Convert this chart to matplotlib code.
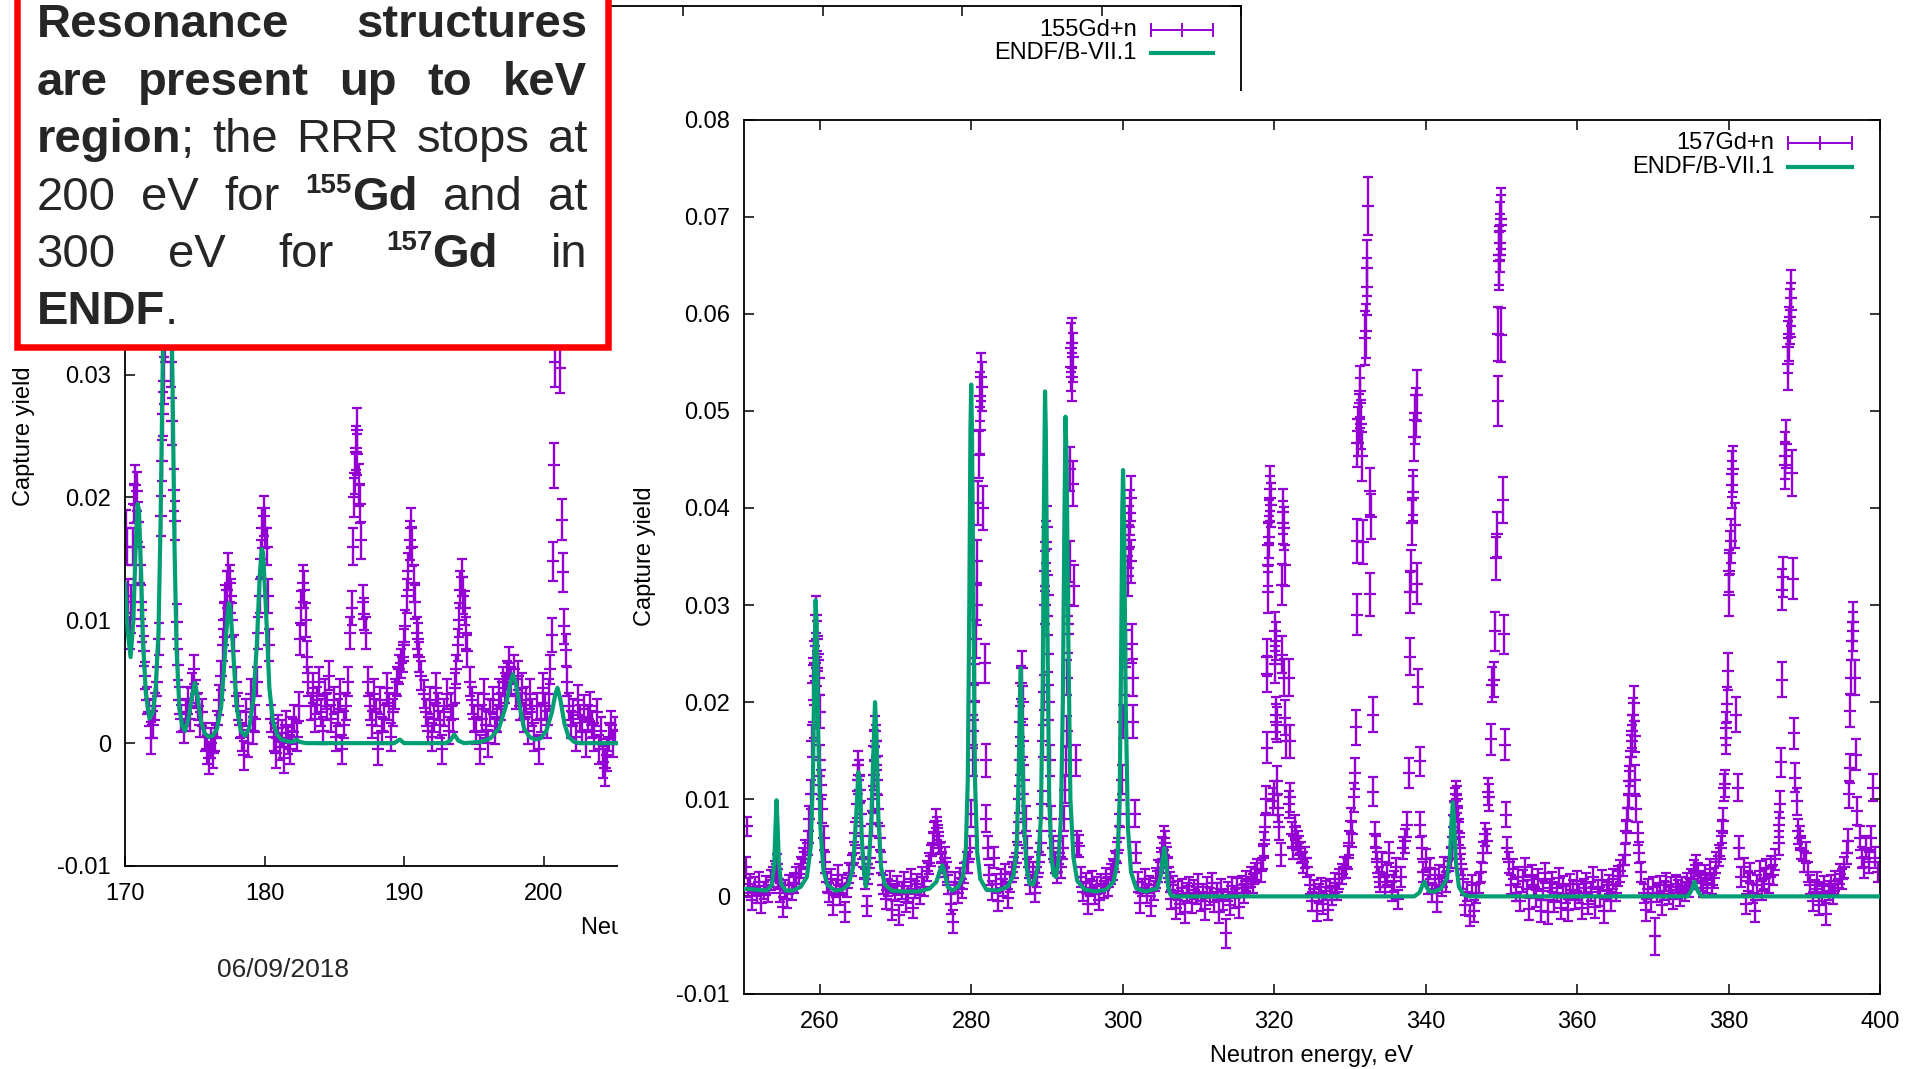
import numpy as np
import matplotlib
matplotlib.use("Agg")
import matplotlib.pyplot as plt
from matplotlib.patches import Rectangle
from matplotlib.lines import Line2D

# ---------------------------------------------------------------- data
# 155Gd+n capture yield (left plot); energies in eV, yield and error in units of 1e-3
E155 = [170.05, 170.15, 170.25, 170.35, 170.45, 170.55, 170.65, 170.75, 170.85, 170.95, 171.05, 171.15, 171.25, 171.35, 171.45,
        171.55, 171.7, 171.85, 172.0, 172.15, 172.3,
        172.45, 172.55, 172.65, 172.7, 172.8, 172.9, 173.0, 173.1, 173.2, 173.3, 173.4, 173.5, 173.6, 173.7, 173.8,
        173.9, 174.05, 174.2, 174.35, 174.5, 174.65, 174.8, 174.95, 175.1, 175.25, 175.4, 175.55, 175.7, 175.85, 176.0, 176.15, 176.3,
        176.45, 176.6, 176.75, 176.9, 177.0, 177.1, 177.2, 177.3, 177.4, 177.5, 177.6, 177.7, 177.8, 177.95, 178.1, 178.25,
        178.4, 178.55, 178.7, 178.85, 179.0, 179.15, 179.3,
        179.45, 179.55, 179.65, 179.75, 179.85, 179.95, 180.05, 180.15, 180.25, 180.35,
        180.5, 180.65, 180.8, 180.95, 181.1, 181.25, 181.4, 181.55, 181.7, 181.85, 182.0, 182.15, 182.3, 182.45,
        182.55, 182.65, 182.75, 182.85, 182.95, 183.05, 183.15,
        183.3, 183.45, 183.6, 183.75, 183.9, 184.05, 184.2, 184.35, 184.5, 184.65, 184.8, 184.95, 185.1, 185.25, 185.4, 185.55, 185.7, 185.85, 186.0,
        186.15, 186.25, 186.35, 186.45, 186.5, 186.55, 186.6, 186.65, 186.75, 186.85, 186.95, 187.05, 187.15, 187.25,
        187.4, 187.55, 187.7, 187.85, 188.0, 188.15, 188.3, 188.45, 188.6, 188.75, 188.9, 189.05, 189.2, 189.35, 189.5, 189.65,
        189.8, 189.9, 190.0, 190.1, 190.2, 190.3, 190.4, 190.5, 190.6, 190.7, 190.8, 190.9, 191.0, 191.1, 191.25, 191.4,
        191.55, 191.7, 191.85, 192.0, 192.15, 192.3, 192.45, 192.6, 192.75, 192.9, 193.05, 193.2, 193.35, 193.5, 193.65,
        193.75, 193.85, 193.95, 194.05, 194.15, 194.25, 194.35, 194.45, 194.55, 194.7, 194.85, 195.0,
        195.15, 195.3, 195.45, 195.6, 195.75, 195.9, 196.05, 196.2, 196.35, 196.5, 196.65, 196.8, 196.95, 197.1,
        197.25, 197.4, 197.55, 197.7, 197.85, 198.0, 198.15, 198.3, 198.45,
        198.6, 198.75, 198.9, 199.05, 199.2, 199.35, 199.5, 199.65, 199.8, 199.95, 200.1, 200.25, 200.4, 200.5,
        200.6, 200.7, 200.75, 200.8, 200.9, 201.0, 201.1, 201.2, 201.3, 201.4, 201.5, 201.6, 201.7,
        201.85, 202.0, 202.15, 202.3, 202.45, 202.6, 202.75, 202.9, 203.05, 203.2, 203.35, 203.5, 203.65, 203.8, 203.95, 204.1, 204.25, 204.4, 204.55, 204.7, 204.85, 205.0, 205.15]
Y155 = [17.5, 16.0, 12.0, 9.0, 11.5, 16.0, 19.5, 21.0, 20.5, 18.0, 14.5, 11.5, 9.5, 7.5, 5.5,
        3.5, 2.5, 0.4, 1.5, 3.0, 5.0,
        8.5, 18.5, 23.0, 26.8, 29.5, 33.0, 38.0, 40.0, 36.0, 31.0, 26.2, 20.6, 18.1, 9.9, 6.4,
        3.5, 2.0, 1.0, 2.5, 3.5, 2.0, 4.5, 6.0, 4.0, 3.0, 1.5, 2.5, 0.5, -0.5, -1.2, 0.0, -0.8,
        0.5, 1.5, 3.5, 5.5, 8.0, 10.0, 11.5, 12.5, 14.0, 13.0, 12.0, 10.0, 7.5, 5.0, 3.0, 1.5,
        0.5, -1.0, 2.5, 0.0, 4.0, 1.0, 2.0,
        5.0, 9.0, 12.0, 15.0, 17.5, 18.5, 17.5, 16.0, 12.0, 8.0,
        2.0, 0.5, -0.8, 1.2, -0.3, 0.8, -1.2, 1.5, 0.2, -0.5, 1.0, 2.0, 0.5, 3.0,
        8.5, 11.0, 13.0, 12.5, 10.0, 7.0, 5.0,
        3.0, 4.5, 2.0, 3.5, 5.0, 2.5, 1.0, 4.0, 3.0, 5.5, 2.0, 3.5, 0.5, 2.5, 4.0, -0.5, 1.5, 3.0, 5.0,
        9.0, 11.0, 16.0, 20.0, 22.0, 24.0, 25.5, 23.5, 21.0, 19.5, 16.5, 11.5, 10.5, 9.0,
        5.0, 3.0, 1.5, 4.0, 2.5, -0.5, 3.5, 1.0, 2.0, 4.5, 3.0, 0.5, 2.5, 4.0, 5.0, 6.0,
        6.5, 7.0, 8.0, 9.5, 12.0, 14.0, 16.5, 17.5, 16.0, 13.0, 11.5, 9.0, 8.5, 7.0, 5.5, 4.0,
        2.5, 1.0, 3.5, 0.5, 2.0, 4.5, 3.0, 1.5, -0.5, 2.5, 4.0, 1.0, 3.0, 2.0, 4.5,
        6.0, 8.0, 10.0, 12.5, 13.5, 12.0, 11.0, 9.0, 7.5, 5.0, 3.5, 2.0,
        1.0, 3.0, -0.5, 2.0, 4.0, 1.5, 0.0, 2.5, 3.5, 1.0, 2.0, 4.0, 3.0, 5.0,
        4.5, 5.5, 6.5, 5.0, 6.0, 4.0, 5.5, 3.0, 4.5,
        2.0, 3.5, 1.0, 4.0, 2.5, 0.5, 3.0, -0.5, 2.0, 4.5, 3.0, 1.5, 4.0, 6.0,
        8.8, 14.8, 22.6, 31.0, 38.0, 42.0, 35.0, 30.5, 18.2, 13.9, 9.5, 7.6, 5.0,
        3.0, 1.5, 2.5, 0.5, 3.5, 2.0, 1.0, 2.8, 0.0, 2.0, 3.0, 1.5, 0.5, 2.5, -0.5, 1.0, -1.5, -2.0, -1.0, 0.5, 1.5, 0.0, 1.0]
D155 = [1.5, 1.5, 1.4, 1.3, 1.4, 1.5, 1.6, 1.6, 1.6, 1.6, 1.5, 1.4, 1.3, 1.2, 1.1,
        1.1, 1.1, 1.3, 1.1, 1.1, 1.2,
        1.3, 1.6, 1.7, 1.8, 1.9, 2.0, 2.1, 2.1, 2.1, 2.0, 1.9, 1.7, 1.6, 1.4, 1.3,
        1.1, 1.1, 1.0, 1.1, 1.1, 1.0, 1.2, 1.2, 1.1, 1.1, 1.0, 1.1, 1.1, 1.2, 1.3, 1.2, 1.2,
        1.1, 1.1, 1.2, 1.2, 1.3, 1.4, 1.4, 1.5, 1.5, 1.5, 1.4, 1.4, 1.3, 1.2, 1.1, 1.1,
        1.1, 1.2, 1.1, 1.1, 1.2, 1.1, 1.1,
        1.2, 1.3, 1.4, 1.5, 1.6, 1.6, 1.6, 1.5, 1.4, 1.3,
        1.1, 1.1, 1.2, 1.1, 1.1, 1.1, 1.2, 1.1, 1.1, 1.2, 1.1, 1.1, 1.1, 1.2,
        1.3, 1.4, 1.5, 1.5, 1.4, 1.3, 1.2,
        1.1, 1.2, 1.1, 1.1, 1.2, 1.1, 1.1, 1.2, 1.1, 1.2, 1.1, 1.1, 1.1, 1.1, 1.2, 1.2, 1.1, 1.1, 1.2,
        1.3, 1.4, 1.5, 1.6, 1.7, 1.8, 1.8, 1.7, 1.7, 1.6, 1.5, 1.4, 1.3, 1.3,
        1.2, 1.1, 1.1, 1.2, 1.1, 1.3, 1.1, 1.1, 1.1, 1.2, 1.1, 1.1, 1.1, 1.2, 1.2, 1.2,
        1.2, 1.2, 1.3, 1.3, 1.4, 1.5, 1.6, 1.6, 1.6, 1.5, 1.4, 1.3, 1.3, 1.2, 1.2, 1.1,
        1.1, 1.1, 1.1, 1.1, 1.1, 1.2, 1.1, 1.1, 1.2, 1.1, 1.2, 1.1, 1.1, 1.1, 1.2,
        1.2, 1.3, 1.4, 1.5, 1.5, 1.5, 1.4, 1.3, 1.3, 1.2, 1.1, 1.1,
        1.1, 1.1, 1.2, 1.1, 1.2, 1.1, 1.1, 1.1, 1.1, 1.1, 1.1, 1.2, 1.1, 1.2,
        1.2, 1.2, 1.3, 1.2, 1.2, 1.2, 1.2, 1.1, 1.2,
        1.1, 1.1, 1.1, 1.2, 1.1, 1.1, 1.1, 1.2, 1.1, 1.2, 1.1, 1.1, 1.2, 1.2,
        1.4, 1.6, 1.8, 2.0, 2.1, 2.2, 2.1, 2.0, 1.7, 1.6, 1.4, 1.3, 1.2,
        1.1, 1.1, 1.1, 1.1, 1.2, 1.1, 1.1, 1.1, 1.1, 1.1, 1.2, 1.1, 1.1, 1.1, 1.2, 1.1, 1.3, 1.5, 1.3, 1.1, 1.1, 1.1, 1.1]

# ENDF/B-VII.1 curve for 155Gd (yield in 1e-3)
ENDF155_E = [170.0, 170.2, 170.4, 170.6, 170.75, 170.9, 171.0, 171.15, 171.3, 171.5,
             171.75, 172.0, 172.2, 172.4, 172.55, 172.7, 172.85, 173.05, 173.25, 173.4,
             173.55, 173.7, 173.9, 174.1, 174.3, 174.55, 174.8, 175.0, 175.2, 175.45,
             175.7, 176.0, 176.3, 176.6, 176.9, 177.15, 177.35, 177.45, 177.55, 177.75,
             178.0, 178.3, 178.6, 178.9, 179.2, 179.45, 179.65, 179.8, 179.9, 180.1,
             180.35, 180.6, 180.9, 181.2, 181.6, 182.0, 182.3, 182.5, 183.0, 189.3,
             189.7, 190.0, 193.0, 193.3, 193.6, 193.9, 194.3, 195.5, 196.2, 196.8,
             197.3, 197.6, 197.8, 198.0, 198.3, 198.6, 199.0, 199.4, 199.8, 200.2,
             200.6, 200.85, 201.0, 201.2, 201.5, 201.8, 202.2, 202.6, 250.0]
ENDF155_Y = [13.0, 9.0, 7.0, 10.0, 15.5, 19.5, 19.0, 14.0, 8.0, 4.0,
             2.0, 2.5, 4.5, 9.0, 18.0, 30.5, 42.0, 52.0, 42.0, 30.0,
             16.0, 7.5, 2.8, 1.4, 1.0, 2.0, 3.8, 4.9, 3.8, 1.8,
             0.8, 0.5, 0.6, 1.2, 3.0, 7.0, 10.5, 11.4, 11.0, 7.5,
             3.0, 1.0, 0.6, 1.2, 3.5, 8.0, 13.5, 15.8, 15.5, 11.0,
             4.5, 1.8, 0.7, 0.3, 0.15, 0.1, 0.3, 0.1, 0.0, 0.0,
             0.3, 0.0, 0.0, 0.2, 0.7, 0.2, 0.0, 0.1, 0.4, 1.2,
             3.0, 4.8, 5.6, 5.0, 3.0, 1.2, 0.5, 0.3, 0.4, 1.0,
             2.5, 4.0, 4.5, 3.6, 1.6, 0.5, 0.1, 0.0, 0.0]

# 157Gd+n capture yield (right plot); energies in eV, yield and error in units of 1e-3
E157 = [250.2, 250.35, 250.5, 250.8, 251.1, 251.4, 251.7, 252.0, 252.3, 252.6, 252.9, 253.2, 253.5, 253.8,
        254.1, 254.3, 254.5, 254.8, 255.1, 255.4, 255.7, 256.0, 256.3, 256.6, 256.9, 257.2, 257.5, 257.8, 258.1,
        258.4, 258.6, 258.8, 259.0, 259.1, 259.2, 259.3, 259.4, 259.5, 259.6, 259.7, 259.8, 259.9, 260.0, 260.1, 260.2, 260.3, 260.5, 260.7,
        260.9, 261.2, 261.5, 261.8, 262.1, 262.4, 262.7, 263.0, 263.3, 263.6, 263.9, 264.2,
        264.5, 264.7, 264.9, 265.0, 265.1, 265.2, 265.3, 265.4, 265.6, 265.8,
        266.0, 266.2, 266.4, 266.7, 266.9, 267.0, 267.1, 267.2, 267.3, 267.4, 267.5, 267.6, 267.7, 267.9, 268.1,
        268.4, 268.7, 269.0, 269.3, 269.6, 269.9, 270.2, 270.5, 270.8, 271.1, 271.4, 271.7, 272.0, 272.3, 272.6, 272.9, 273.2, 273.5, 273.8, 274.1, 274.4, 274.7,
        274.9, 275.1, 275.3, 275.5, 275.6, 275.8, 276.0, 276.2, 276.4, 276.6, 276.8,
        277.0, 277.3, 277.6, 277.9, 278.2, 278.5, 278.8, 279.1, 279.4,
        279.6, 279.8, 280.0, 280.2, 280.3, 280.4, 280.5, 280.6, 280.7, 280.8, 280.9, 281.0, 281.1, 281.2, 281.3, 281.4, 281.6, 281.8, 281.9, 282.0, 282.2,
        282.4, 282.7, 283.0, 283.3, 283.6, 283.9, 284.2, 284.5, 284.8, 285.1, 285.4, 285.7, 286.0,
        286.2, 286.3, 286.4, 286.5, 286.6, 286.7, 286.8, 286.9, 287.0, 287.2, 287.4, 287.6,
        287.8, 288.1, 288.4, 288.7, 289.0,
        289.2, 289.4, 289.5, 289.6, 289.7, 289.8, 289.9, 290.0, 290.1, 290.2, 290.3, 290.4, 290.6, 290.8,
        291.0, 291.3, 291.6, 291.9, 292.1,
        292.3, 292.4, 292.5, 292.6, 292.7, 292.8, 292.9, 293.0, 293.1, 293.15, 293.2, 293.25, 293.3, 293.4, 293.5, 293.6, 293.8, 294.0,
        294.2, 294.5, 294.8, 295.1, 295.4, 295.7, 296.0, 296.3, 296.6, 296.9, 297.2, 297.5, 297.8, 298.1, 298.4, 298.7, 299.0,
        299.3, 299.5, 299.7, 299.9, 300.1, 300.3, 300.5, 300.7, 300.8, 300.9, 301.0, 301.05, 301.1, 301.2, 301.3, 301.4, 301.6, 301.8,
        302.0, 302.3, 302.6, 302.9, 303.2, 303.5, 303.8, 304.1, 304.4, 304.7,
        305.0, 305.2, 305.4, 305.6, 305.8, 306.0, 306.2,
        306.4, 306.7, 307.0, 307.3, 307.6, 307.9, 308.2, 308.5, 308.8, 309.1, 309.4, 309.7, 310.0, 310.3, 310.6, 310.9, 311.2, 311.5, 311.8, 312.1,
        312.4, 312.7, 313.0, 313.3, 313.6, 313.9, 314.2, 314.5, 314.8, 315.1, 315.4, 315.7, 316.0, 316.3, 316.6, 316.9, 317.2, 317.5, 317.8,
        318.3, 318.5, 318.7, 318.85, 318.9, 319.0, 319.05, 319.1, 319.15, 319.2, 319.25, 319.3, 319.35, 319.4, 319.5, 319.6, 319.8, 320.0, 320.1, 320.15,
        320.2, 320.25, 320.3, 320.35, 320.4, 320.5, 320.7, 320.9, 321.0, 321.1, 321.15, 321.2, 321.25, 321.3, 321.4, 321.5, 321.6, 321.9, 322.0, 322.05,
        322.1, 322.3, 322.5, 322.7, 322.9, 323.1, 323.3, 323.5, 323.8, 324.1, 324.4,
        324.7, 325.0, 325.3, 325.6, 325.9, 326.2, 326.5, 326.8, 327.1, 327.4, 327.7, 328.0, 328.3, 328.6, 328.9, 329.2,
        329.5, 329.7, 329.9, 330.1, 330.3, 330.5, 330.7, 330.8, 330.9, 330.95, 331.0, 331.1, 331.2, 331.3, 331.4, 331.5, 331.6, 331.7, 332.0, 332.1,
        332.2, 332.3, 332.4, 332.6, 332.7, 332.8, 333.0, 333.1, 333.3, 333.4, 333.6, 333.8,
        334.0, 334.3, 334.6, 334.9, 335.2, 335.5, 335.8, 336.1, 336.4, 336.7, 337.0, 337.3,
        337.6, 337.8, 337.9, 338.0, 338.1, 338.2, 338.3, 338.4, 338.5, 338.6, 338.7, 338.8, 338.9, 339.0, 339.2, 339.3, 339.5,
        339.7, 340.0, 340.3, 340.6, 340.9, 341.2, 341.5, 341.8, 342.1, 342.4, 342.7, 343.0, 343.3,
        343.5, 343.7, 343.8, 343.9, 344.0, 344.1, 344.2, 344.3, 344.4, 344.5, 344.7,
        344.9, 345.2, 345.5, 345.8, 346.1, 346.4, 346.7, 347.0, 347.3, 347.6,
        347.9, 348.1, 348.3, 348.4, 348.6, 348.8, 349.0, 349.2, 349.3, 349.4, 349.5, 349.6, 349.7, 349.75, 349.8, 349.85, 349.9, 349.95, 350.0, 350.2,
        350.4, 350.5, 350.6, 350.8,
        351.0, 351.3, 351.6, 351.9, 352.2, 352.5, 352.8, 353.1, 353.4, 353.7, 354.0, 354.3, 354.6, 354.9, 355.2, 355.5, 355.8, 356.1, 356.4, 356.7,
        357.0, 357.3, 357.6, 357.9, 358.2, 358.5, 358.8, 359.1, 359.4, 359.7, 360.0, 360.3, 360.6, 360.9, 361.2, 361.5, 361.8, 362.1, 362.4, 362.7,
        363.0, 363.3, 363.6, 363.9, 364.2, 364.5, 364.8, 365.1, 365.4, 365.7, 366.0,
        366.3, 366.5, 366.6, 366.7, 366.8, 366.9, 367.0, 367.1, 367.2, 367.3, 367.4, 367.5, 367.6, 367.7, 367.8, 368.0, 368.2,
        368.5, 368.8, 369.1, 369.4, 369.7, 370.0, 370.3, 370.6, 370.9, 371.2, 371.5, 371.8, 372.1, 372.4, 372.7, 373.0, 373.3, 373.6, 373.9, 374.2,
        374.5, 374.8, 375.1, 375.4, 375.7, 376.0, 376.3, 376.6, 376.9, 377.2, 377.5, 377.8, 378.1, 378.4, 378.7, 379.0,
        379.2, 379.3, 379.4, 379.5, 379.6, 379.7, 379.8, 379.9, 380.0, 380.1, 380.2, 380.3, 380.4, 380.5, 380.6, 380.8, 381.0, 381.2, 381.4,
        381.7, 382.0, 382.3, 382.6, 382.9, 383.2, 383.5, 383.8, 384.1, 384.4, 384.7, 385.0, 385.3, 385.6, 385.9, 386.2,
        386.6, 386.7, 386.8, 386.9, 387.0, 387.1, 387.2, 387.4, 387.5, 387.6, 387.8, 387.9, 388.0, 388.1, 388.2, 388.3, 388.4, 388.5, 388.7, 388.8,
        389.0, 389.2, 389.4, 389.6, 389.9, 390.2, 390.5,
        390.8, 391.1, 391.4, 391.7, 392.0, 392.3, 392.6, 392.9, 393.2, 393.5, 393.8, 394.1, 394.4, 394.7, 395.0, 395.3,
        395.6, 395.8, 395.9, 396.0, 396.1, 396.2, 396.3, 396.4, 396.5, 396.7, 396.8, 397.0, 397.3, 397.6, 397.9, 398.2, 398.5, 398.8, 399.1, 399.4,
        399.7]
Y157 = [3.0, 7.2, 0.9, 1.3, -0.4, 1.0, 0.2, 1.5, -0.7, 0.6, 1.1, 0.3, 1.7, 2.0,
        2.6, 3.3, 1.8, 0.4, -1.1, 0.7, -0.3, 1.2, 0.5, 1.4, 2.0, 2.3, 3.0, 3.9, 4.6,
        5.5, 8.0, 10.5, 16.0, 22.0, 24.5, 18.0, 24.0, 29.0, 26.5, 23.5, 25.0, 22.5, 19.0, 14.0, 11.5, 9.0, 6.0, 3.5,
        1.5, 0.4, 1.8, -0.9, 0.8, 2.2, 0.1, 1.3, -1.6, 0.9, 2.4, 3.2,
        4.5, 6.5, 9.5, 12.0, 13.5, 12.5, 11.0, 8.5, 5.0, 3.0,
        1.8, -1.0, 2.3, 4.0, 7.5, 10.0, 12.5, 15.5, 17.0, 16.0, 14.5, 12.0, 9.0, 6.0, 3.5,
        1.2, -0.3, 0.9, 1.6, -1.4, 0.4, 1.1, -1.9, 0.6, 1.5, -0.6, 0.2, 1.8, -1.2, 0.7, 1.3, 0.1, 2.0, 1.0, 2.6, 3.4, 4.2,
        5.5, 6.5, 7.8, 7.0, 6.2, 5.5, 4.5, 3.5, 3.0, 4.0, 2.5,
        1.2, -0.8, -2.6, 1.5, 0.3, 1.9, 0.8, 2.4, 3.5,
        3.5, 5.0, 8.5, 14.0, 17.0, 20.0, 22.0, 26.5, 30.0, 34.5, 40.5, 45.5, 48.0, 51.5, 53.5, 52.5, 40.0, 24.0, 14.0, 8.0, 5.0,
        2.2, 0.6, 4.0, 1.3, -0.5, 1.8, 0.9, 2.3, -0.2, 1.5, 2.5, 3.0, 4.5,
        6.5, 10.0, 14.0, 18.0, 22.0, 23.5, 20.0, 16.0, 12.0, 8.0, 5.0, 3.0,
        1.2, 2.5, 0.4, 2.0, 3.5,
        5.5, 9.5, 16.0, 21.0, 30.0, 33.5, 36.5, 38.0, 31.0, 25.0, 20.0, 14.0, 8.0, 5.0,
        3.5, 2.5, 4.5, 3.0, 5.0,
        8.0, 11.0, 14.0, 17.0, 22.5, 27.0, 30.0, 34.5, 44.0, 56.5, 54.5, 53.5, 57.0, 55.5, 42.5, 32.0, 14.0, 5.5,
        5.2, 2.0, 0.5, 1.4, -0.8, 0.9, 1.6, 0.2, 1.1, -0.4, 1.3, 0.7, 1.9, 1.0, 2.3, 2.8, 3.6,
        4.5, 6.0, 8.5, 12.0, 18.0, 22.5, 25.5, 33.0, 36.0, 38.0, 39.5, 41.0, 34.5, 26.0, 22.5, 18.0, 8.5, 4.5,
        1.5, -0.7, 0.9, 1.8, 0.3, 1.2, -1.0, 0.6, 1.9, 2.6,
        3.5, 5.0, 6.0, 5.5, 4.0, 3.0, 1.5,
        -0.3, 1.2, -1.2, 0.6, -0.8, 0.9, -1.6, 0.4, 1.1, -0.7, 0.7, 0.1, 1.3, -0.5, 0.4, -1.3, 1.0, 0.0, 1.4, -0.6,
        0.5, -1.6, 0.8, -0.4, -3.8, 0.5, -0.9, 1.1, -0.2, 0.9, -1.1, 1.2, 0.3, 1.6, 0.9, 2.0, 1.3, 2.4, 2.8,
        2.6, 4.0, 5.4, 7.1, 10.0, 15.3, 22.9, 24.6, 31.3, 34.1, 36.2, 37.0, 38.6, 41.0, 42.0, 40.3, 9.8, 10.5, 27.3, 23.9,
        26.3, 18.7, 18.0, 17.7, 11.9, 9.1, 7.1, 4.3, 32.1, 24.9, 39.6, 38.5, 37.9, 22.5, 34.1, 18.4, 16.0, 9.5, 22.5, 16.0,
        10.2, 6.4, 5.0, 7.1, 6.0, 5.5, 5.0, 4.5, 3.5, 4.0, 3.0,
        1.2, -0.5, 0.8, -1.5, 0.3, 1.0, -0.8, 0.6, -1.4, 0.9, 0.1, 1.4, 0.5, 1.8, 2.3, 3.0,
        3.0, 4.0, 5.5, 7.8, 6.4, 10.2, 12.7, 17.4, 29.0, 36.6, 46.7, 47.9, 49.2, 50.8, 52.0, 48.6, 45.3, 36.5, 57.5, 58.2,
        62.8, 64.7, 71.1, 41.7, 31.1, 39.1, 18.7, 10.8, 6.4, 5.0, 3.5, 2.0,
        1.5, 3.5, 1.0, 2.2, 4.5, 0.5, 1.6, 3.0, -0.3, 2.0, 5.0, 5.7,
        7.4, 12.7, 24.7, 31.3, 33.5, 38.5, 41.0, 41.6, 47.3, 49.1, 49.8, 51.6, 32.2, 21.6, 13.9, 7.4, 5.0,
        2.5, 3.8, 1.2, 2.9, 0.4, 1.8, -0.6, 2.2, 1.0, 3.0, 1.5, 2.6, 4.0,
        5.0, 7.1, 8.4, 9.8, 10.5, 9.1, 10.0, 8.0, 6.5, 5.0, 3.3,
        1.8, -0.9, 0.5, -2.0, 1.2, -1.5, 0.3, 1.4, 2.5, 4.5,
        6.4, 5.7, 10.8, 10.2, 16.2, 21.8, 22.3, 27.3, 34.8, 37.3, 51.0, 57.9, 65.4, 66.0, 67.3, 68.5, 69.1, 69.8, 57.8, 40.8,
        27.0, 15.6, 8.4, 5.0,
        3.5, 1.2, 2.8, 0.4, 2.0, -0.5, 1.6, 3.0, 0.8, -1.3, 2.2, 1.0, -0.2, 1.8, -1.5, 0.6, 2.4, -1.6, 0.9, 1.5,
        -0.6, 0.4, 1.9, -1.2, 1.1, 0.2, -1.4, 1.3, 0.7, -0.4, 1.6, 0.3, -1.2, 0.9, 1.4, -0.8, 0.5, 2.0, -1.1, 0.8,
        0.0, 1.7, -1.5, 0.6, 1.2, -0.5, 1.8, 0.4, 2.1, 2.6, 3.2,
        4.3, 6.7, 7.8, 9.1, 10.5, 11.9, 12.9, 15.0, 16.0, 17.0, 18.7, 19.9, 16.5, 12.0, 9.0, 6.5, 4.5,
        2.5, 0.3, -1.4, 0.8, -0.6, 1.0, -4.1, 0.4, 1.2, -0.9, 0.6, 1.5, 0.2, 1.0, -0.3, 1.3, 0.7, 0.0, 1.1, 0.5,
        1.4, 0.9, 1.8, 2.6, 3.2, 2.4, 1.6, 0.9, 2.2, 1.4, 2.8, 1.2, 1.9, 3.5, 4.2, 5.0,
        6.7, 7.8, 11.2, 11.6, 16.3, 17.3, 19.8, 23.2, 31.0, 33.5, 35.4, 36.6, 42.4, 43.5, 44.0, 38.2, 18.7, 11.2, 5.0,
        2.0, 3.0, -0.8, 1.6, 2.4, 0.3, -1.5, 1.2, 2.6, 0.6, 1.8, 2.9, 1.3, 3.1, 2.2, 3.8,
        5.5, 7.4, 9.5, 13.8, 22.3, 31.6, 32.9, 44.4, 45.4, 46.6, 54.8, 56.6, 57.9, 59.7, 60.4, 61.6, 43.6, 32.7, 16.8, 12.2,
        9.8, 6.7, 6.0, 5.0, 3.6, 4.5, 2.5,
        1.2, -0.5, 0.8, 1.5, -0.9, 0.4, 1.1, -1.8, 0.6, 1.3, 0.2, 1.6, 0.9, 2.3, 1.8, 3.0,
        4.5, 5.7, 10.5, 13.2, 19.1, 22.5, 26.3, 27.3, 28.3, 22.5, 14.6, 8.8, 6.0, 4.0, 3.0, 5.0, 3.5, 6.0, 11.2, 4.0,
        2.5]
D157 = [1.1, 1.0, 1.0, 1.0, 1.0, 1.0, 0.9, 1.0, 1.0, 0.9, 1.0, 0.9, 1.0, 1.0,
        1.0, 1.1, 1.0, 1.0, 1.0, 1.0, 0.9, 1.0, 0.9, 1.0, 1.0, 1.0, 1.1, 1.1, 1.2,
        1.2, 1.3, 1.5, 1.6, 1.8, 1.8, 1.7, 1.8, 1.9, 1.9, 1.8, 1.8, 1.8, 1.7, 1.6, 1.5, 1.4, 1.2, 1.1,
        1.0, 1.0, 1.0, 1.0, 0.9, 1.0, 1.0, 0.9, 1.0, 1.0, 1.0, 1.1,
        1.1, 1.2, 1.4, 1.5, 1.5, 1.5, 1.4, 1.3, 1.2, 1.1,
        1.0, 1.0, 1.0, 1.1, 1.3, 1.4, 1.5, 1.6, 1.6, 1.6, 1.5, 1.5, 1.4, 1.2, 1.1,
        1.0, 1.0, 0.9, 1.0, 1.0, 0.9, 1.0, 1.0, 0.9, 1.0, 1.0, 0.9, 1.0, 1.0, 0.9, 1.0, 0.9, 1.0, 1.0, 1.0, 1.1, 1.1,
        1.1, 1.2, 1.2, 1.2, 1.2, 1.1, 1.1, 1.1, 1.0, 1.1, 1.0,
        1.0, 1.0, 1.2, 1.0, 1.0, 1.0, 1.0, 1.0, 1.1,
        1.1, 1.2, 1.4, 1.6, 1.7, 1.8, 1.9, 2.0, 2.1, 2.2, 2.3, 2.4, 2.4, 2.5, 2.5, 2.5, 2.3, 2.0, 1.7, 1.4, 1.2,
        1.0, 1.0, 1.1, 1.0, 1.0, 1.0, 0.9, 1.0, 1.0, 1.0, 1.0, 1.1, 1.1,
        1.2, 1.4, 1.5, 1.6, 1.7, 1.8, 1.7, 1.6, 1.5, 1.3, 1.2, 1.1,
        1.0, 1.0, 1.0, 1.0, 1.1,
        1.2, 1.4, 1.6, 1.8, 2.0, 2.1, 2.2, 2.2, 2.1, 1.9, 1.8, 1.6, 1.3, 1.2,
        1.1, 1.1, 1.2, 1.1, 1.2,
        1.3, 1.4, 1.5, 1.6, 1.8, 1.9, 2.0, 2.1, 2.3, 2.5, 2.5, 2.5, 2.6, 2.5, 2.3, 2.1, 1.6, 1.2,
        1.1, 1.0, 1.0, 1.0, 1.0, 0.9, 1.0, 1.0, 0.9, 1.0, 1.0, 0.9, 1.0, 1.0, 1.0, 1.1, 1.1,
        1.1, 1.2, 1.4, 1.5, 1.7, 1.8, 1.9, 2.1, 2.2, 2.2, 2.3, 2.3, 2.2, 2.0, 1.9, 1.7, 1.4, 1.1,
        1.0, 1.0, 0.9, 1.0, 1.0, 0.9, 1.0, 1.0, 1.0, 1.1,
        1.1, 1.1, 1.2, 1.2, 1.1, 1.1, 1.0,
        1.0, 0.9, 1.1, 1.0, 1.0, 0.9, 1.1, 1.0, 0.9, 1.0, 1.0, 0.9, 1.0, 1.0, 0.9, 1.1, 1.0, 0.9, 1.0, 1.0,
        0.9, 1.1, 1.0, 1.0, 1.5, 1.0, 1.0, 0.9, 1.0, 1.0, 1.1, 0.9, 1.0, 1.0, 0.9, 1.0, 1.0, 1.0, 1.1,
        1.1, 1.2, 1.2, 1.3, 1.4, 1.6, 1.9, 1.9, 2.1, 2.1, 2.2, 2.2, 2.2, 2.3, 2.3, 2.3, 1.4, 1.4, 2.0, 1.9,
        2.0, 1.8, 1.8, 1.8, 1.5, 1.4, 1.3, 1.2, 2.1, 1.9, 2.3, 2.2, 2.2, 1.9, 2.1, 1.8, 1.7, 1.4, 1.9, 1.7,
        1.5, 1.3, 1.2, 1.3, 1.2, 1.2, 1.2, 1.1, 1.1, 1.1, 1.0,
        1.0, 1.0, 0.9, 1.0, 1.0, 0.9, 1.0, 1.0, 1.0, 0.9, 1.0, 1.0, 0.9, 1.0, 1.0, 1.1,
        1.1, 1.2, 1.2, 1.3, 1.3, 1.5, 1.6, 1.8, 2.1, 2.3, 2.5, 2.5, 2.5, 2.6, 2.6, 2.5, 2.5, 2.3, 2.8, 2.8,
        2.9, 2.9, 3.0, 2.4, 2.2, 2.3, 1.8, 1.5, 1.3, 1.2, 1.1, 1.0,
        1.0, 1.1, 1.0, 1.0, 1.1, 1.0, 1.0, 1.0, 1.0, 1.0, 1.1, 1.2,
        1.3, 1.5, 1.9, 2.1, 2.2, 2.3, 2.3, 2.3, 2.5, 2.5, 2.5, 2.6, 2.1, 1.8, 1.5, 1.3, 1.2,
        1.0, 1.1, 1.0, 1.1, 1.0, 1.0, 1.0, 1.0, 1.0, 1.1, 1.0, 1.0, 1.1,
        1.1, 1.2, 1.3, 1.4, 1.4, 1.3, 1.4, 1.3, 1.2, 1.1, 1.1,
        1.0, 1.0, 1.0, 1.1, 1.0, 1.1, 1.0, 1.0, 1.0, 1.1,
        1.2, 1.2, 1.4, 1.4, 1.6, 1.8, 1.8, 2.0, 2.2, 2.3, 2.6, 2.8, 3.0, 3.0, 3.0, 3.0, 3.1, 3.1, 2.8, 2.4,
        2.0, 1.6, 1.3, 1.1,
        1.1, 1.0, 1.0, 0.9, 1.0, 1.0, 1.1, 1.0, 0.9, 1.1, 1.0, 1.0, 0.9, 1.0, 1.1, 1.0, 1.0, 1.2, 0.9, 1.0,
        1.0, 0.9, 1.0, 1.1, 1.0, 0.9, 1.1, 1.0, 1.0, 0.9, 1.0, 1.0, 1.1, 0.9, 1.0, 1.0, 1.0, 1.0, 1.1, 0.9,
        1.0, 1.0, 1.2, 0.9, 1.0, 1.0, 1.0, 0.9, 1.0, 1.1, 1.1,
        1.1, 1.2, 1.3, 1.3, 1.4, 1.5, 1.5, 1.6, 1.6, 1.7, 1.7, 1.8, 1.6, 1.5, 1.3, 1.2, 1.1,
        1.0, 1.0, 1.1, 1.0, 1.0, 1.0, 1.9, 1.0, 0.9, 1.0, 1.0, 0.9, 1.0, 1.0, 1.0, 0.9, 1.0, 1.0, 0.9, 1.0,
        1.0, 1.0, 1.0, 1.1, 1.1, 1.0, 1.0, 1.0, 1.0, 1.0, 1.1, 1.0, 1.0, 1.1, 1.1, 1.2,
        1.2, 1.3, 1.4, 1.4, 1.6, 1.7, 1.8, 1.9, 2.1, 2.2, 2.2, 2.3, 2.4, 2.4, 2.4, 2.3, 1.8, 1.4, 1.2,
        1.0, 1.0, 1.0, 1.0, 1.0, 1.0, 1.1, 1.0, 1.0, 1.0, 1.0, 1.0, 1.0, 1.1, 1.0, 1.1,
        1.2, 1.3, 1.4, 1.5, 1.8, 2.1, 2.1, 2.4, 2.4, 2.5, 2.7, 2.7, 2.8, 2.8, 2.8, 2.9, 2.4, 2.1, 1.6, 1.5,
        1.4, 1.3, 1.2, 1.2, 1.1, 1.1, 1.0,
        1.0, 1.0, 0.9, 1.0, 1.0, 0.9, 1.0, 1.1, 1.0, 0.9, 1.0, 1.0, 0.9, 1.0, 1.0, 1.1,
        1.2, 1.2, 1.4, 1.5, 1.7, 1.8, 2.0, 2.0, 2.0, 1.8, 1.6, 1.4, 1.2, 1.1, 1.1, 1.2, 1.1, 1.2, 1.4, 1.1,
        1.0]

# ENDF/B-VII.1 curve for 157Gd (yield in 1e-3)
ENDF157_E = [250.0, 253.0, 253.7, 254.0, 254.15, 254.3, 254.45, 254.6, 254.9, 255.5,
             256.5, 257.5, 258.3, 258.8, 259.1, 259.3, 259.45, 259.6, 259.8, 260.1,
             260.5, 261.0, 262.0, 263.0, 263.8, 264.4, 264.8, 265.1, 265.3, 265.55,
             265.85, 266.1, 266.4, 266.8, 267.05, 267.3, 267.5, 267.75, 268.1, 268.6,
             269.5, 271.0, 273.0, 274.5, 275.4, 275.9, 276.2, 276.5, 276.9, 277.5,
             278.3, 278.9, 279.3, 279.55, 279.75, 279.9, 280.0, 280.1, 280.3, 280.5,
             280.8, 281.2, 282.0, 283.5, 284.8, 285.6, 286.0, 286.25, 286.45, 286.55,
             286.7, 286.95, 287.3, 287.7, 288.2, 288.8, 289.2, 289.45, 289.6, 289.75,
             289.85, 290.05, 290.3, 290.6, 290.9, 291.2, 291.5, 291.85, 292.1, 292.3,
             292.45, 292.6, 292.8, 293.1, 293.5, 294.0, 295.0, 296.5, 297.8, 298.8,
             299.3, 299.6, 299.8, 299.95, 300.05, 300.2, 300.4, 300.7, 301.1, 301.8,
             303.0, 304.5, 305.0, 305.3, 305.5, 305.7, 306.0, 306.3, 306.6, 338.5,
             339.2, 339.6, 339.85, 340.1, 340.5, 341.2, 342.0, 342.8, 343.2, 343.45,
             343.6, 343.75, 344.0, 344.4, 345.0, 345.8, 374.6, 375.1, 375.5, 375.9,
             376.4, 400.0]
ENDF157_Y = [0.8, 0.6, 1.2, 3.5, 7.0, 9.9, 7.0, 3.5, 1.3, 0.6,
             0.6, 1.0, 2.0, 5.0, 12.0, 24.0, 30.5, 28.0, 17.0, 7.0,
             2.6, 1.2, 0.6, 0.7, 1.2, 3.0, 8.0, 12.8, 12.0, 6.0,
             2.5, 1.0, 2.5, 7.5, 14.0, 20.0, 16.5, 8.0, 3.0, 1.2,
             0.6, 0.5, 0.5, 0.8, 1.5, 2.7, 3.2, 2.4, 1.0, 0.6,
             1.0, 2.0, 5.0, 12.0, 30.0, 48.0, 52.7, 48.0, 30.0, 12.0,
             4.5, 1.8, 0.7, 0.6, 1.0, 2.2, 5.0, 12.0, 21.0, 23.5,
             18.0, 8.0, 3.0, 1.3, 1.2, 3.0, 8.0, 22.0, 40.0, 52.0,
             48.0, 28.0, 10.0, 4.0, 2.2, 2.0, 3.5, 8.0, 20.0, 38.0,
             49.4, 45.0, 28.0, 10.0, 4.0, 1.6, 0.7, 0.5, 0.7, 1.5,
             3.5, 10.0, 25.0, 40.0, 43.9, 38.0, 20.0, 7.0, 2.5, 0.8,
             0.5, 0.8, 2.0, 4.0, 5.0, 3.8, 1.0, 0.2, 0.0, 0.0,
             0.4, 1.2, 1.5, 1.0, 0.5, 0.5, 0.8, 1.8, 4.0, 8.0,
             9.7, 8.0, 3.5, 1.0, 0.2, 0.0, 0.0, 0.6, 1.5, 0.6,
             0.0, 0.0]

# ticks (labels of ticks hidden behind the pasted graph / text box are left blank)
XT155 = [170, 180, 190, 200, 210, 220, 230, 240, 250]
XTL155 = ["170", "180", "190", "200", "", "", "", "", ""]
XT157 = [260, 280, 300, 320, 340, 360, 380, 400]
XTL157 = ["260", "280", "300", "320", "340", "360", "380", "400"]
YT155 = [-0.01, 0.0, 0.01, 0.02, 0.03, 0.04, 0.05, 0.06]
YTL155 = ["-0.01", "0", "0.01", "0.02", "0.03", "", "", ""]
YT157 = [-0.01, 0.0, 0.01, 0.02, 0.03, 0.04, 0.05, 0.06, 0.07, 0.08]
YTL157 = ["-0.01", "0", "0.01", "0.02", "0.03", "0.04", "0.05", "0.06", "0.07", "0.08"]

for a, b, c in [(E155, Y155, D155), (E157, Y157, D157)]:
    assert len(a) == len(b) == len(c), (len(a), len(b), len(c))
assert len(ENDF155_E) == len(ENDF155_Y) and len(ENDF157_E) == len(ENDF157_Y)

# ---------------------------------------------------------------- style
W, H = 1907, 1069
FONT = "Liberation Sans"
plt.rcParams["font.family"] = [FONT, "DejaVu Sans"]
PURPLE = "#9400d3"
GREEN = "#009e73"
TXT = "#262626"

fig = plt.figure(figsize=(W / 100, H / 100), dpi=100)
fig.patch.set_facecolor("white")


def fx(px):
    return px / W


def fy(py):
    return 1 - py / H


def make_axes(l, t, r, b):
    return fig.add_axes([fx(l), fy(b), (r - l) / W, (b - t) / H])


def style(ax, xlim, ylim, xt, xtl, yt, ytl):
    ax.set_xlim(*xlim)
    ax.set_ylim(*ylim)
    ax.set_xticks(xt)
    ax.set_xticklabels(xtl)
    ax.set_yticks(yt)
    ax.set_yticklabels(ytl)
    ax.tick_params(direction="in", length=7.5, width=1.1, top=True, right=True,
                   labelsize=17, labelcolor="black")
    ax.tick_params(axis="x", pad=12.5)
    ax.tick_params(axis="y", pad=10)
    for s in ax.spines.values():
        s.set_linewidth(1.3)


def plot_data(ax, e, y, d, ee, ey):
    ax.errorbar(e, np.array(y) / 1000.0, yerr=np.array(d) / 1000.0, fmt="_", color=PURPLE,
                ms=8.5, mew=1.6, elinewidth=1.7, capsize=3.8, capthick=1.6, zorder=2)
    ax.plot(ee, np.array(ey) / 1000.0, color=GREEN, lw=3.0, zorder=3, solid_joinstyle="round")


# ---------------------------------------------------------------- left plot (155Gd)
L1, T1, R1, B1 = 125, 6, 1241, 866
ax1 = make_axes(L1, T1, R1, B1)
ax1.set_zorder(1)
style(ax1, (170, 250), (-0.01, 0.06), XT155, XTL155, YT155, YTL155)
plot_data(ax1, E155, Y155, D155, ENDF155_E, ENDF155_Y)
ax1.set_xlabel("Neutron energy, eV", fontsize=17)
ax1.set_ylabel("Capture yield", fontsize=17)
ax1.xaxis.label.set_va("center")
ax1.yaxis.label.set_va("center")
ax1.xaxis.set_label_coords(0.5, -(928 - B1) / (B1 - T1))
ax1.yaxis.set_label_coords(-(L1 - 24) / (R1 - L1), 0.5)

# cover: the second (pasted) graph hides the right part of the first one
fig.add_artist(Rectangle((fx(618), 0), 1 - fx(618), fy(91), transform=fig.transFigure,
                         facecolor="white", edgecolor="none", zorder=2))

# ---------------------------------------------------------------- right plot (157Gd)
L2, T2, R2, B2 = 744, 119.5, 1880, 993.5
ax2 = make_axes(L2, T2, R2, B2)
ax2.set_zorder(3)
style(ax2, (250, 400), (-0.01, 0.08), XT157, XTL157, YT157, YTL157)
plot_data(ax2, E157, Y157, D157, ENDF157_E, ENDF157_Y)
ax2.set_xlabel("Neutron energy, eV", fontsize=17)
ax2.set_ylabel("Capture yield", fontsize=17)
ax2.xaxis.label.set_va("center")
ax2.yaxis.label.set_va("center")
ax2.xaxis.set_label_coords(0.5, -(1056 - B2) / (B2 - T2))
ax2.yaxis.set_label_coords(-(L2 - 645) / (R2 - L2), 0.5)


# ---------------------------------------------------------------- keys (gnuplot style)
def key(label1, rows, xr, sx0, sx1, z):
    y1, y2 = rows
    fig.text(fx(xr), fy(y1), label1, ha="right", va="center", fontsize=17, zorder=z)
    fig.text(fx(xr), fy(y2), "ENDF/B-VII.1", ha="right", va="center", fontsize=17, zorder=z)
    kw = dict(transform=fig.transFigure, color=PURPLE, lw=1.4, zorder=z)
    fig.add_artist(Line2D([fx(sx0), fx(sx1)], [fy(y1), fy(y1)], **kw))
    for sx in (sx0, (sx0 + sx1) / 2, sx1):
        fig.add_artist(Line2D([fx(sx), fx(sx)], [fy(y1 - 6), fy(y1 + 6)], **kw))
    fig.add_artist(Line2D([fx(sx0), fx(sx1)], [fy(y2), fy(y2)], transform=fig.transFigure,
                          color=GREEN, lw=3.0, zorder=z))


key("155Gd+n", (30, 53), 1137, 1151, 1213, 2.5)
key("157Gd+n", (143, 167), 1774, 1788, 1852, 3.5)

# ---------------------------------------------------------------- red text box
BOX_L, BOX_R, BOX_B = 16.8, 607.7, 347.4
fig.add_artist(Rectangle((fx(BOX_L), fy(BOX_B)), fx(BOX_R) - fx(BOX_L), fy(-30) - fy(BOX_B),
                         transform=fig.transFigure, facecolor="white", edgecolor="#ff0000",
                         linewidth=4.7, zorder=4))

MAIN_PT, SUP_PT, SUP_RISE = 34, 20, 17
TXT_L, TXT_R = 36.5, 587.0
BASELINES = [37, 95, 152.5, 210, 267, 324]
LINES = [
    [[("Resonance", 1, 0)], [("structures", 1, 0)]],
    [[("are", 1, 0)], [("present", 1, 0)], [("up", 1, 0)], [("to", 1, 0)], [("keV", 1, 0)]],
    [[("region", 1, 0), (";", 0, 0)], [("the", 0, 0)], [("RRR", 0, 0)], [("stops", 0, 0)], [("at", 0, 0)]],
    [[("200", 0, 0)], [("eV", 0, 0)], [("for", 0, 0)], [("155", 1, 1), ("Gd", 1, 0)], [("and", 0, 0)], [("at", 0, 0)]],
    [[("300", 0, 0)], [("eV", 0, 0)], [("for", 0, 0)], [("157", 1, 1), ("Gd", 1, 0)], [("in", 0, 0)]],
    [[("ENDF", 1, 0), (".", 0, 0)]],
]
JUSTIFY = [True, True, True, True, True, False]

renderer = fig.canvas.get_renderer()


def run_kw(bold, sup):
    return dict(fontsize=SUP_PT if sup else MAIN_PT, fontweight="bold" if bold else "normal",
                color=TXT, family=[FONT, "DejaVu Sans"])


def run_width(txt, bold, sup):
    t = fig.text(0, 0, txt, **run_kw(bold, sup))
    w = t.get_window_extent(renderer).width
    t.remove()
    return w


for words, base, just in zip(LINES, BASELINES, JUSTIFY):
    widths = [sum(run_width(*r) for r in w) for w in words]
    if just and len(words) > 1:
        gap = (TXT_R - TXT_L - sum(widths)) / (len(words) - 1)
    else:
        gap = 13
    x = TXT_L
    for w, ww in zip(words, widths):
        xx = x
        for txt, bold, sup in w:
            yb = base - (SUP_RISE if sup else 0)
            fig.text(fx(xx), fy(yb), txt, ha="left", va="baseline", zorder=5, **run_kw(bold, sup))
            xx += run_width(txt, bold, sup)
        x += ww + gap

# ---------------------------------------------------------------- date
fig.text(fx(283), fy(970), "06/09/2018", ha="center", va="center", fontsize=19, color=TXT)

fig.savefig("out.png", dpi=100, facecolor="white")
